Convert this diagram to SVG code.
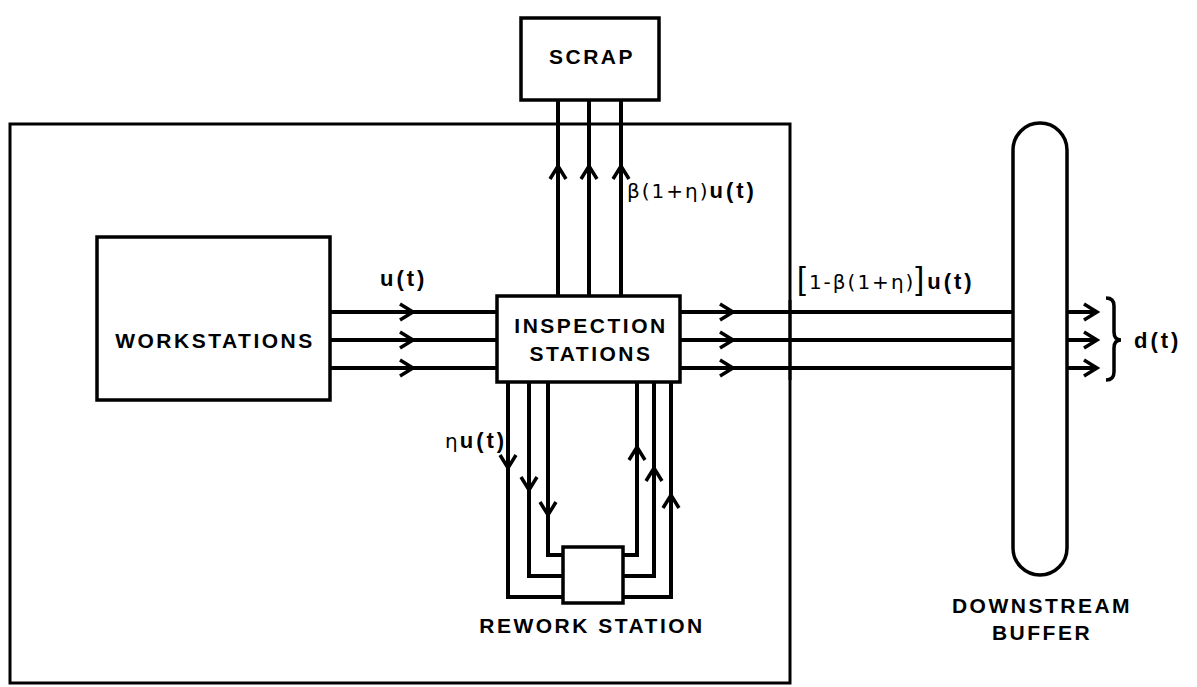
<svg xmlns="http://www.w3.org/2000/svg" xmlns:xlink="http://www.w3.org/1999/xlink" width="1197" height="687" viewBox="0 0 1197 687">
<style>
.box{fill:#fff;stroke:#000;stroke-width:3.5}
.ln{fill:none;stroke:#000;stroke-width:4}
.t{font-family:"Liberation Sans",Arial,sans-serif;font-weight:bold;font-size:21px;fill:#000;letter-spacing:2.5px}
.m{font-family:"DejaVu Sans","Liberation Sans",sans-serif;font-weight:normal;font-size:20px;fill:#000;letter-spacing:2px}
.mb{font-family:"Liberation Sans",Arial,sans-serif;font-weight:bold;font-size:22px;fill:#000;letter-spacing:3px}
</style>
<defs>
<path id="ar" d="M-13,-8 L0,0 L-13,8" fill="none" stroke="#000" stroke-width="3.5" stroke-linejoin="miter"/>
</defs>
<rect id="outer" x="10" y="124" width="780" height="559" fill="none" stroke="#000" stroke-width="3"/>
<g id="connectors">
<path class="ln" d="M330,312 H497 M330,340 H497 M330,368 H497"/>
<path class="ln" d="M680,312 H1013 M680,340 H1013 M680,368 H1013"/>
<path class="ln" d="M1067,312 H1097 M1067,340 H1097 M1067,368 H1097"/>
<path class="ln" d="M558,100 V296 M589,100 V296 M621,100 V296"/>
<path class="ln" d="M508,382 V597 H563 M529,382 V576 H563 M548,382 V555 H563"/>
<path class="ln" d="M671,382 V597 H623 M654,382 V576 H623 M637,382 V555 H623"/>
<line x1="790" y1="300" x2="790" y2="380" stroke="#000" stroke-width="3"/>
<use xlink:href="#ar" transform="translate(413,312)"/>
<use xlink:href="#ar" transform="translate(413,340)"/>
<use xlink:href="#ar" transform="translate(413,368)"/>
<use xlink:href="#ar" transform="translate(733,312)"/>
<use xlink:href="#ar" transform="translate(733,340)"/>
<use xlink:href="#ar" transform="translate(733,368)"/>
<use xlink:href="#ar" transform="translate(1097,312)"/>
<use xlink:href="#ar" transform="translate(1097,340)"/>
<use xlink:href="#ar" transform="translate(1097,368)"/>
<use xlink:href="#ar" transform="translate(558,166) rotate(-90)"/>
<use xlink:href="#ar" transform="translate(589,166) rotate(-90)"/>
<use xlink:href="#ar" transform="translate(621,166) rotate(-90)"/>
<use xlink:href="#ar" transform="translate(508,468) rotate(90)"/>
<use xlink:href="#ar" transform="translate(529,490) rotate(90)"/>
<use xlink:href="#ar" transform="translate(548,515) rotate(90)"/>
<use xlink:href="#ar" transform="translate(637,447) rotate(-90)"/>
<use xlink:href="#ar" transform="translate(654,468) rotate(-90)"/>
<use xlink:href="#ar" transform="translate(671,495) rotate(-90)"/>
<path d="M1106,298 Q1114,298 1114,306 V332 Q1114,340 1121,340 Q1114,340 1114,348 V372 Q1114,380 1106,380" fill="none" stroke="#000" stroke-width="3.5"/>
</g>
<g id="workstations">
<rect class="box" x="97" y="237" width="233" height="163"/>
<text class="t" x="215" y="348" text-anchor="middle">WORKSTATIONS</text>
</g>
<g id="inspection">
<rect class="box" x="497" y="296" width="183" height="86"/>
<text class="t" x="591" y="333" text-anchor="middle">INSPECTION</text>
<text class="t" x="591" y="361" text-anchor="middle">STATIONS</text>
</g>
<g id="scrap">
<rect class="box" x="521" y="18" width="138" height="82"/>
<text class="t" x="592" y="64" text-anchor="middle">SCRAP</text>
</g>
<g id="rework">
<rect class="box" x="563" y="547" width="60" height="56"/>
<text class="t" x="592" y="633" text-anchor="middle">REWORK STATION</text>
</g>
<g id="buffer">
<rect class="box" x="1013" y="123" width="54" height="452" rx="27" ry="27"/>
<text class="t" x="1042" y="613" text-anchor="middle">DOWNSTREAM</text>
<text class="t" x="1042" y="640" text-anchor="middle">BUFFER</text>
</g>
<g id="labels">
<text class="mb" x="380" y="286">u(t)</text>
<text class="mb" x="627" y="198"><tspan class="m">β(1+η)</tspan>u(t)</text>
<text class="mb" x="445" y="448" letter-spacing="2"><tspan class="m" letter-spacing="1">η</tspan>u(t)</text>
<text class="mb" x="797" y="289"><tspan font-size="32" font-weight="normal">[</tspan><tspan class="m">1-β(1+η)</tspan><tspan font-size="32" font-weight="normal">]</tspan>u(t)</text>
<text class="mb" x="1134" y="348">d(t)</text>
</g>
</svg>
